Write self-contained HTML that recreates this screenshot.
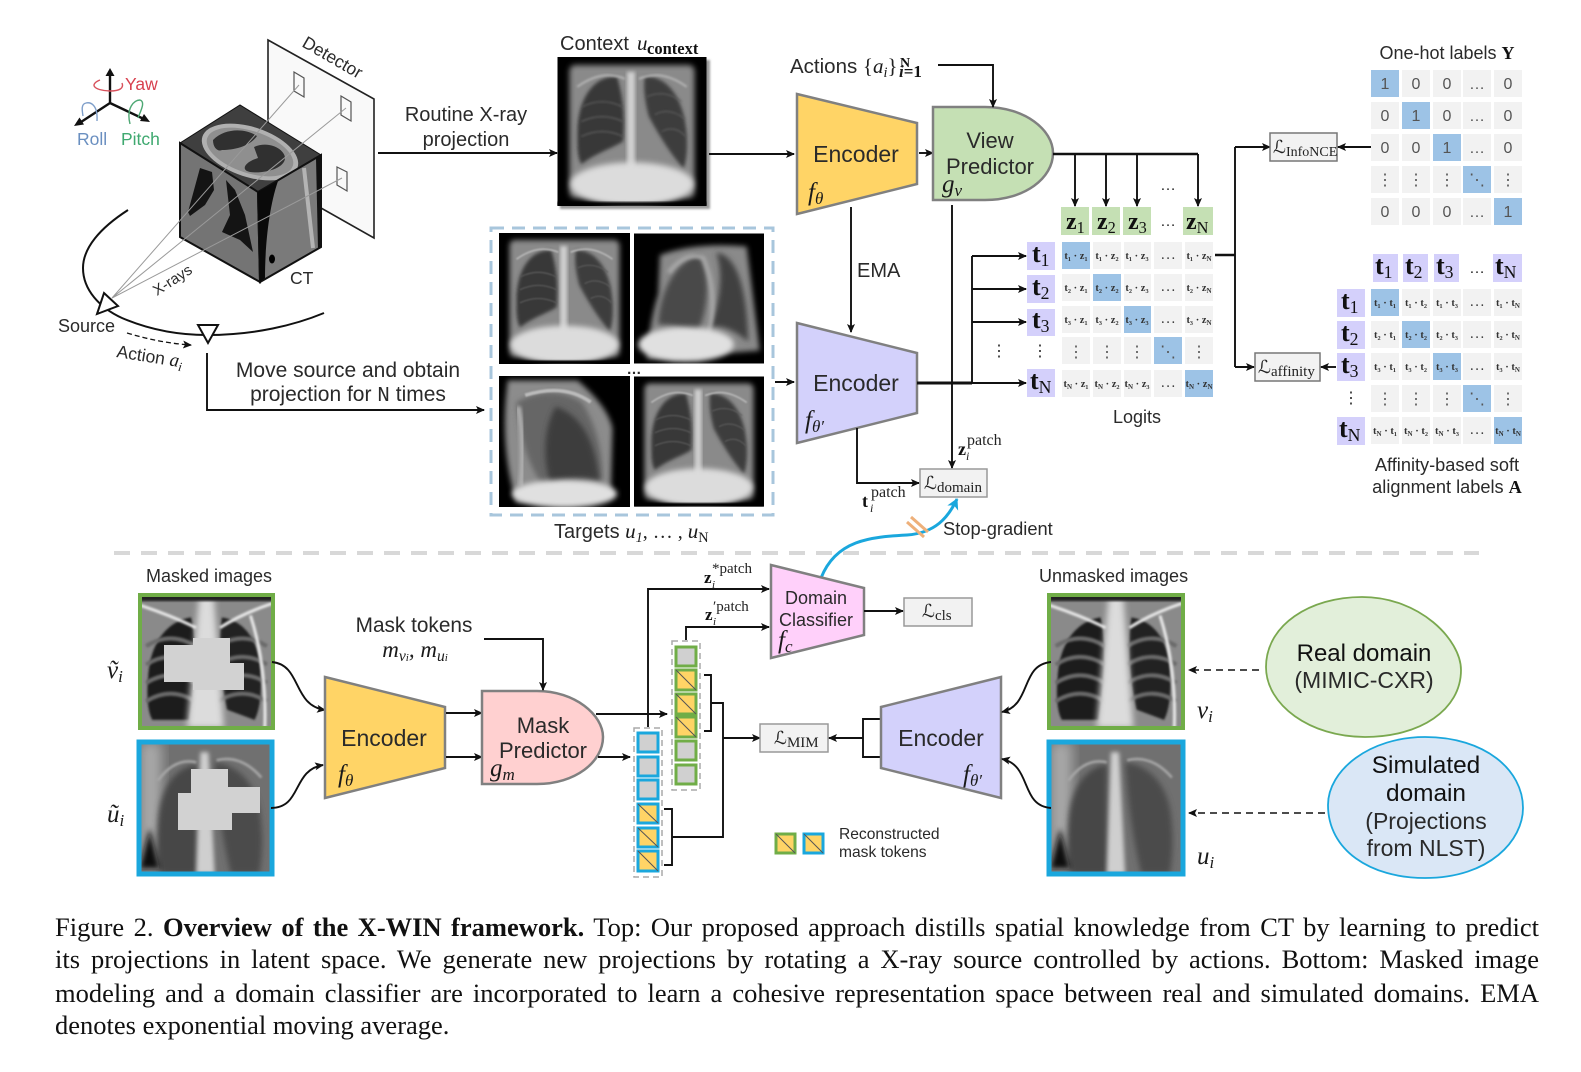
<!DOCTYPE html>
<html lang="en"><head><meta charset="utf-8"><title>X-WIN framework</title>
<style>
html,body{margin:0;padding:0;background:#fff;width:1581px;height:1072px;overflow:hidden}
svg{position:absolute;left:0;top:0}
.s{font-family:"Liberation Sans",sans-serif;fill:#2a2a2a}
.m{font-family:"Liberation Serif",serif;font-style:italic;fill:#1a1a1a}
.b{font-family:"Liberation Serif",serif;font-weight:bold;fill:#111}
.r{font-family:"Liberation Serif",serif;fill:#222}
.c{font-family:"Liberation Serif",serif;font-weight:bold;font-size:10.5px;fill:#333;text-anchor:middle}
.d{font-family:"Liberation Sans",sans-serif;font-size:16px;fill:#555;text-anchor:middle}
.n{font-size:7px;baseline-shift:-2px}
.sub{font-size:68%;baseline-shift:-4px}
.ls{font-size:15px;baseline-shift:-3px}
.mid{text-anchor:middle}
.l{fill:none;stroke:#111;stroke-width:1.9}
.ar{marker-end:url(#a)}
.cap{position:absolute;left:55px;width:1484px;height:33px;line-height:33px;font-family:"Liberation Serif",serif;font-size:26.5px;color:#111;white-space:nowrap;text-align:justify;text-align-last:justify}
</style></head><body>
<svg width="1581" height="1072" viewBox="0 0 1581 1072" xmlns="http://www.w3.org/2000/svg">
<defs>
<marker id="a" markerUnits="userSpaceOnUse" markerWidth="10" markerHeight="10" refX="8" refY="4" orient="auto"><path d="M0,0 L9,4 L0,8 L2,4 Z" fill="#111"/></marker>
<marker id="ab" markerUnits="userSpaceOnUse" markerWidth="13" markerHeight="13" refX="10" refY="6" orient="auto"><path d="M0,0 L11,6 L0,12 L3,6 Z" fill="#1aa7dd"/></marker>
<filter id="b1" x="-20%" y="-20%" width="140%" height="140%"><feGaussianBlur stdDeviation="1"/></filter>
<filter id="b2" x="-20%" y="-20%" width="140%" height="140%"><feGaussianBlur stdDeviation="2"/></filter>
<filter id="b3" x="-20%" y="-20%" width="140%" height="140%"><feGaussianBlur stdDeviation="3"/></filter>
<filter id="b6" x="-30%" y="-30%" width="160%" height="160%"><feGaussianBlur stdDeviation="6"/></filter>
<symbol id="xf" viewBox="0 0 150 150">
<rect width="150" height="150" fill="#000"/>
<rect x="12" y="8" width="126" height="134" rx="6" fill="#8a8a8a" filter="url(#b3)"/>
<path d="M60,20 C38,18 20,40 20,78 C20,92 20,100 24,108 C40,96 55,92 66,85 C68,60 66,40 60,20Z" fill="#383838" filter="url(#b2)"/>
<path d="M88,20 C110,18 128,42 130,78 C131,92 130,104 127,112 C115,100 100,75 92,60 C88,45 86,30 88,20Z" fill="#3c3c3c" filter="url(#b2)"/>
<g stroke="#5e5e5e" stroke-width="1.200" fill="none" filter="url(#b1)"><path d="M25,50 Q45,40 65,50M24,65 Q45,55 66,65M24,80 Q45,70 66,80M90,40 Q108,32 125,45M98,58 Q112,50 128,62M105,75 Q118,68 129,80"/></g>
<rect x="70" y="15" width="8" height="105" fill="#cfcfcf" filter="url(#b2)"/>
<path d="M20,30 Q45,12 68,22M130,30 Q105,12 82,22" stroke="#b5b5b5" stroke-width="2" fill="none" filter="url(#b1)"/>
<ellipse cx="75" cy="128" rx="62" ry="22" fill="#dcdcdc" filter="url(#b3)"/>
<rect x="0" y="146" width="150" height="4" fill="#000" filter="url(#b1)"/>
</symbol>
<symbol id="xl1" viewBox="0 0 150 150">
<rect width="150" height="150" fill="#000"/>
<path d="M30,25 Q70,10 130,15 L145,135 L15,145 Q18,100 28,70Z" fill="#8a8a8a" filter="url(#b3)"/>
<path d="M75,25 C50,30 30,65 28,105 C40,105 60,108 72,118 C85,90 90,50 75,25Z" fill="#4a4a4a" filter="url(#b3)"/>
<path d="M95,22 C118,25 130,60 132,125 C120,115 105,105 88,108 C98,80 104,50 95,22Z" fill="#404040" filter="url(#b3)"/>
<path d="M40,45 Q60,20 80,28 Q98,70 85,118" stroke="#a8a8a8" stroke-width="5" fill="none" filter="url(#b2)"/>
<ellipse cx="60" cy="128" rx="55" ry="20" fill="#e0e0e0" filter="url(#b3)"/>
</symbol>
<symbol id="xl2" viewBox="0 0 150 150">
<rect width="150" height="150" fill="#000"/>
<path d="M10,5 L90,5 Q125,35 130,60 L128,135 L20,145 Q0,80 10,5Z" fill="#8c8c8c" filter="url(#b3)"/>
<path d="M20,30 Q60,8 95,30 Q120,70 118,120 L50,125 Q25,90 20,30Z" fill="#666" filter="url(#b3)"/>
<path d="M65,35 C50,60 50,100 60,125 C80,115 100,115 115,120 C110,75 95,45 65,35Z" fill="#3e3e3e" filter="url(#b3)"/>
<path d="M22,35 Q30,80 25,125" stroke="#b0b0b0" stroke-width="6" fill="none" filter="url(#b2)"/>
<path d="M30,22 Q75,8 105,30" stroke="#bbb" stroke-width="4" fill="none" filter="url(#b1)"/>
<ellipse cx="75" cy="135" rx="60" ry="16" fill="#e0e0e0" filter="url(#b3)"/>
</symbol>
<symbol id="xr" viewBox="0 0 130 130">
<rect width="130" height="130" fill="#8a8a8a"/>
<path d="M50,22 C28,25 10,45 8,80 C6,100 8,115 12,122 L48,122 C54,90 56,50 50,22Z" fill="#1e1e1e" filter="url(#b1)"/>
<path d="M80,22 C102,25 118,45 118,80 C119,100 116,115 112,122 L85,112 C78,80 76,50 80,22Z" fill="#232323" filter="url(#b1)"/>
<g stroke="#6a6a6a" stroke-width="4" fill="none" filter="url(#b1)"><path d="M6,50 Q30,35 54,50M6,68 Q30,53 54,68M6,86 Q30,71 54,86M6,104 Q30,89 54,104M76,50 Q100,35 124,50M76,68 Q100,53 124,68M76,86 Q100,71 124,86M76,104 Q100,89 124,104"/></g>
<path d="M58,0 L72,0 L82,130 L46,130Z" fill="#dcdcdc" filter="url(#b3)"/>
<path d="M0,10 Q30,20 55,32M130,8 Q100,18 78,32M108,20 Q124,70 122,130" stroke="#e8e8e8" stroke-width="3" fill="none" filter="url(#b1)"/>
<rect x="0" y="0" width="130" height="6" fill="#222" filter="url(#b1)"/>
</symbol>
<symbol id="xs" viewBox="0 0 130 130">
<rect width="130" height="130" fill="#707070"/>
<rect x="0" y="0" width="22" height="130" fill="#a8a8a8" filter="url(#b6)"/>
<path d="M56,22 C35,25 20,45 18,80 C16,105 18,120 20,130 L56,130Z" fill="#474747" filter="url(#b3)"/>
<path d="M74,20 C95,22 118,40 120,80 C122,100 120,120 118,130 L90,130 C80,90 76,50 74,20Z" fill="#4c4c4c" filter="url(#b3)"/>
<path d="M60,10 L68,10 L74,130 L56,130Z" fill="#cfcfcf" filter="url(#b2)"/>
<path d="M18,38 Q35,15 56,20M120,35 Q100,12 76,18" stroke="#a8a8a8" stroke-width="2.500" fill="none" filter="url(#b1)"/>
<path d="M0,125 L20,125 L10,85Z" fill="#111" filter="url(#b3)"/>
</symbol>
<g id="r1"><rect x="1062" width="28" height="27"/><rect x="1093" width="28" height="27"/><rect x="1124" width="27" height="27"/><rect x="1154" width="28" height="27"/><rect x="1185" width="28" height="27"/></g>
<g id="r2"><rect x="1371" width="28" height="27"/><rect x="1402" width="28" height="27"/><rect x="1433" width="28" height="27"/><rect x="1463" width="28" height="27"/><rect x="1494" width="28" height="27"/></g>
</defs>

<!-- top left: geometry -->
<path d="M268,40 L374,99 L374,238 L268,178Z" fill="#f9f9f9" stroke="#222" stroke-width="1.600"/>
<text class="s" font-size="17.500" transform="translate(301,46) rotate(30)">Detector</text>
<path d="M294,72L304,78V97L294,91ZM341,96L351,102V121L341,115ZM337,167L347,172V191L337,185Z" fill="none" stroke="#555" stroke-width="1.200"/>
<polygon points="180,143 240,105 321,155 258,192" fill="#3f3f3f" stroke="#111"/>
<ellipse cx="250" cy="152" rx="50" ry="25" transform="rotate(18 250 152)" fill="#b0b0b0"/>
<ellipse cx="250" cy="152" rx="45" ry="21" transform="rotate(18 250 152)" fill="#8f8f8f"/>
<path d="M213,140 C225,128 245,128 257,136 C250,146 235,150 222,150 C218,152 213,148 213,140Z" fill="#303030"/>
<path d="M254,147 C270,140 285,150 285,158 C285,168 265,174 250,172 C240,170 245,162 258,158Z" fill="#303030"/>
<polygon points="180,143 258,192 260,282 180,237" fill="#747474" stroke="#111" stroke-width="2"/>
<polygon points="200,168 212,172 214,190 205,205 190,216 188,212" fill="#141414"/>
<polygon points="226,180 235,190 245,215 253,252 240,240 222,232 230,215" fill="#141414"/>
<polygon points="258,192 321,155 321,247 260,282" fill="#7a7a7a" stroke="#111" stroke-width="2"/>
<path d="M258,192 L278,181 C268,210 265,250 265,278 L260,282Z" fill="#0a0a0a"/>
<path d="M316,158L321,155V247L318,249Z" fill="#111"/>
<path d="M304,168 L313,248" stroke="#b4b4b4" stroke-width="4" fill="none"/>
<ellipse cx="272" cy="259" rx="3" ry="4.500" fill="#000"/>
<g stroke="#9a9a9a" stroke-width="1" fill="none">
<path d="M112,298L299,85M112,298L346,108M112,298L342,178"/>
</g>
<path d="M128,210 C100,228 83,248 83,268 C83,290 100,308 122,318 C150,330 180,335 207,335 C255,335 295,325 324,313" fill="none" stroke="#111" stroke-width="2"/>
<polygon points="104,293 118,306 97,314" fill="#fff" stroke="#111" stroke-width="2"/>
<polygon points="198,325 218,325 208,343" fill="#fff" stroke="#111" stroke-width="2"/>
<text class="s" x="58" y="332" font-size="18">Source</text>
<path d="M127,333 Q160,343 191,345" fill="none" stroke="#111" stroke-width="1.300" stroke-dasharray="5 3" marker-end="url(#a)"/>
<text class="s" font-size="17.500" transform="translate(116,357) rotate(9)">Action <tspan class="m" font-size="19">a<tspan class="sub">i</tspan></tspan></text>
<text class="s" font-size="15" transform="translate(157,296) rotate(-33)">X-rays</text>
<text class="s" x="290" y="284" font-size="17.500">CT</text>
<!-- axes -->
<g stroke="#111" stroke-width="2.400" fill="none">
<path d="M110,103V72M110,103L78,124M110,103L146,120"/>
</g>
<path d="M110,68l-4.500,8h9zM74,126l10,-1.500l-4.500,-7zM150,122l-10,-1l4,-7z" fill="#111"/>
<path d="M100,80 C90,84 92,90 110,91 C120,91 124,88 122,83" fill="none" stroke="#d8515c" stroke-width="1.400"/>
<path d="M97,121 C98,104 90,102 86,103 C81,104 82,110 83,116" fill="none" stroke="#7f9fca" stroke-width="1.400"/>
<path d="M130,124 C126,108 134,100 140,100 C146,102 140,112 138,118" fill="none" stroke="#4ea874" stroke-width="1.400"/>
<text class="s" x="125" y="90" font-size="17.500" style="fill:#d8414f">Yaw</text>
<text class="s" x="77" y="145" font-size="17.500" style="fill:#6a8fc0">Roll</text>
<text class="s" x="121" y="145" font-size="17.500" style="fill:#3fa970">Pitch</text>

<!-- routine arrow -->
<text class="s mid" x="466" y="121" font-size="20">Routine X-ray</text>
<text class="s mid" x="466" y="146" font-size="20">projection</text>
<path class="l ar" d="M378,153H557"/>
<text class="s mid" x="348" y="377" font-size="21">Move source and obtain</text>
<text class="s mid" x="348" y="401" font-size="21">projection for <tspan style="font-family:'Liberation Mono',monospace">N</tspan> times</text>
<path class="l ar" d="M207,353V410H484"/>

<!-- context & targets -->
<rect x="560" y="60" width="150" height="149" fill="#999" filter="url(#b1)"/>
<use href="#xf" x="557" y="57" width="150" height="149"/>
<text class="s" x="560" y="50" font-size="20">Context</text>
<text class="m" x="637" y="50" font-size="21">u</text>
<text class="b" x="647" y="54" font-size="16.500">context</text>
<rect x="491" y="228" width="282" height="287" fill="none" stroke="#a8c6dc" stroke-width="3" stroke-dasharray="13 8"/>
<use href="#xf" x="499" y="233" width="131" height="131"/>
<use href="#xl1" x="634" y="233" width="130" height="131"/>
<use href="#xl2" x="499" y="376" width="131" height="131"/>
<use href="#xf" x="634" y="376" width="130" height="131"/>
<text class="s mid" x="634" y="374" font-size="15" font-weight="bold">…</text>
<text class="s" x="554" y="538" font-size="20">Targets <tspan class="m" font-size="21">u<tspan class="sub">1</tspan></tspan><tspan class="r" font-size="20">, … , </tspan><tspan class="m" font-size="21">u<tspan class="sub" style="font-style:normal">N</tspan></tspan></text>
<path class="l ar" d="M709,154H794"/>
<path class="l ar" d="M775,382H794"/>

<!-- encoders top -->
<polygon points="797,94 917,123 917,184 797,214" fill="#ffd466" stroke="#808080" stroke-width="2.500"/>
<text class="s mid" x="856" y="162" font-size="23">Encoder</text>
<text class="m" x="808" y="200" font-size="25">f<tspan class="sub" font-size="16">θ</tspan></text>
<path class="l ar" d="M919,153H933"/>
<path d="M933,107 H985 C1025,107 1053,130 1053,153 C1053,178 1025,200 985,200 H933Z" fill="#c5e0b4" stroke="#808080" stroke-width="2.500"/>
<text class="s mid" x="990" y="148" font-size="22">View</text>
<text class="s mid" x="990" y="174" font-size="22">Predictor</text>
<text class="m" x="942" y="192" font-size="25">g<tspan class="sub" font-size="16">v</tspan></text>
<text class="s" x="790" y="73" font-size="20.500">Actions <tspan class="r" font-size="21">{</tspan><tspan class="m" font-size="21">a<tspan class="sub">i</tspan></tspan><tspan class="r" font-size="21">}</tspan></text>
<text class="b" x="900" y="67" font-size="14">N</text>
<text class="b" x="899" y="77" font-size="17"><tspan class="m">i</tspan>=1</text>
<path class="l ar" d="M938,65H993V107"/>
<path class="l ar" d="M851,207V332"/>
<text class="s" x="857" y="277" font-size="20">EMA</text>
<polygon points="797,323 917,353 917,413 797,443" fill="#d3d1fb" stroke="#808080" stroke-width="2.500"/>
<text class="s mid" x="856" y="391" font-size="23">Encoder</text>
<text class="m" x="805" y="428" font-size="25">f<tspan class="sub" font-size="16">θ′</tspan></text>
<path d="M917,383H972" stroke="#111" stroke-width="3" fill="none"/>
<path class="l ar" d="M952,205V468"/>
<path class="l" d="M972,383V256"/>
<path class="l ar" d="M972,256H1026"/><path class="l ar" d="M972,289H1026"/><path class="l ar" d="M972,322H1026"/><path class="l ar" d="M972,383H1026"/>
<path class="l ar" d="M857,428V483H919"/>
<rect x="920" y="469" width="67" height="28" fill="#f2f2f2" stroke="#999" stroke-width="1.500"/>
<text class="r" x="924" y="489" font-size="18">ℒ<tspan class="ls">domain</tspan></text>
<text class="b" x="958" y="455" font-size="18">z</text><text class="m" x="966" y="460" font-size="12">i</text><text class="r" x="967" y="445" font-size="16">patch</text>
<text class="b" x="862" y="507" font-size="18">t</text><text class="m" x="870" y="512" font-size="12">i</text><text class="r" x="871" y="497" font-size="16">patch</text>
<path d="M821,578 C836,540 870,537 907,535 C935,533 948,518 957,499" fill="none" stroke="#1aa7dd" stroke-width="3" marker-end="url(#ab)"/>
<path d="M911,517L928,532M907,522L924,537" stroke="#eeb07a" stroke-width="3"/>
<text class="s" x="943" y="535" font-size="18.300">Stop-gradient</text>
<path d="M114,553H1479" stroke="#d8d8d8" stroke-width="4" stroke-dasharray="16 11" fill="none"/>

<!-- logits -->
<path d="M1053,154H1198" stroke="#111" stroke-width="2.500" fill="none"/>
<path class="l ar" d="M1075,154V206"/><path class="l ar" d="M1106,154V206"/><path class="l ar" d="M1137,154V206"/><path class="l ar" d="M1198,154V206"/>
<text class="s mid" x="1168" y="190" font-size="16">…</text>
<g fill="#c5e0b4"><rect x="1061" y="207" width="28" height="28"/><rect x="1092" y="207" width="28" height="28"/><rect x="1123" y="207" width="28" height="28"/><rect x="1183" y="207" width="30" height="28"/></g>
<text class="b" x="1066" y="229" font-size="24">z<tspan class="sub" font-size="17" style="font-weight:normal">1</tspan></text><text class="b" x="1097" y="229" font-size="24">z<tspan class="sub" font-size="17" style="font-weight:normal">2</tspan></text><text class="b" x="1128" y="229" font-size="24">z<tspan class="sub" font-size="17" style="font-weight:normal">3</tspan></text><text class="b" x="1186" y="229" font-size="24">z<tspan class="sub" font-size="17" style="font-weight:normal">N</tspan></text>
<text class="s mid" x="1168" y="226" font-size="16">…</text>
<g fill="#d4d0fb"><rect x="1027" y="242" width="28" height="28"/><rect x="1027" y="275" width="28" height="28"/><rect x="1027" y="309" width="28" height="27"/><rect x="1027" y="369" width="28" height="28"/></g>
<text class="b" x="1032" y="262" font-size="26">t<tspan class="sub" font-size="17" style="font-weight:normal">1</tspan></text>
<text class="b" x="1032" y="295" font-size="26">t<tspan class="sub" font-size="17" style="font-weight:normal">2</tspan></text>
<text class="b" x="1032" y="328" font-size="26">t<tspan class="sub" font-size="17" style="font-weight:normal">3</tspan></text>
<text class="b" x="1030" y="389" font-size="26">t<tspan class="sub" font-size="17" style="font-weight:normal">N</tspan></text>
<text class="s mid" x="999" y="356" font-size="16">⋮</text><text class="s mid" x="1040" y="356" font-size="16">⋮</text>
<g fill="#f2f2f2"><use href="#r1" y="242"/><use href="#r1" y="274"/><use href="#r1" y="306"/><use href="#r1" y="337"/><use href="#r1" y="370"/></g>
<g fill="#9dc3e6"><rect x="1062" y="242" width="28" height="27"/><rect x="1093" y="274" width="28" height="27"/><rect x="1124" y="306" width="27" height="27"/><rect x="1154" y="337" width="28" height="27"/><rect x="1185" y="370" width="28" height="27"/></g>
<text class="c" x="1076" y="259">t₁ · z₁</text><text class="c" x="1107" y="259">t₁ · z₂</text><text class="c" x="1137" y="259">t₁ · z₃</text><text class="c" x="1168" y="259">. . .</text><text class="c" x="1199" y="259">t₁ · z<tspan class="n">N</tspan></text>
<text class="c" x="1076" y="291">t₂ · z₁</text><text class="c" x="1107" y="291">t₂ · z₂</text><text class="c" x="1137" y="291">t₂ · z₃</text><text class="c" x="1168" y="291">. . .</text><text class="c" x="1199" y="291">t₂ · z<tspan class="n">N</tspan></text>
<text class="c" x="1076" y="323">t₃ · z₁</text><text class="c" x="1107" y="323">t₃ · z₂</text><text class="c" x="1137" y="323">t₃ · z₃</text><text class="c" x="1168" y="323">. . .</text><text class="c" x="1199" y="323">t₃ · z<tspan class="n">N</tspan></text>
<text class="d" x="1076" y="357">⋮</text><text class="d" x="1107" y="357">⋮</text><text class="d" x="1137" y="357">⋮</text><text class="d" x="1168" y="357">⋱</text><text class="d" x="1199" y="357">⋮</text>
<text class="c" x="1076" y="387">t<tspan class="n">N</tspan> · z₁</text><text class="c" x="1107" y="387">t<tspan class="n">N</tspan> · z₂</text><text class="c" x="1137" y="387">t<tspan class="n">N</tspan> · z₃</text><text class="c" x="1168" y="387">. . .</text><text class="c" x="1199" y="387">t<tspan class="n">N</tspan> · z<tspan class="n">N</tspan></text>
<text class="s mid" x="1137" y="423" font-size="18">Logits</text>

<!-- losses -->
<path d="M1215,255H1235" stroke="#111" stroke-width="2.500"/>
<path class="l" d="M1235,147V367"/>
<path class="l ar" d="M1235,147H1270"/>
<path class="l ar" d="M1235,367H1254"/>
<rect x="1270" y="133" width="67" height="28" fill="#f2f2f2" stroke="#777" stroke-width="1.500"/>
<text class="r" x="1273" y="153" font-size="18">ℒ<tspan class="ls" style="font-size:14px">InfoNCE</tspan></text>
<rect x="1255" y="353" width="65" height="28" fill="#f2f2f2" stroke="#777" stroke-width="1.500"/>
<text class="r" x="1258" y="373" font-size="18">ℒ<tspan class="ls">affinity</tspan></text>
<path class="l ar" d="M1371,147H1338"/>
<path class="l ar" d="M1336,367H1321"/>

<!-- One hot -->
<text class="s mid" x="1447" y="59" font-size="18">One-hot labels <tspan class="b">Y</tspan></text>
<g fill="#f2f2f2"><use href="#r2" y="70"/><use href="#r2" y="102"/><use href="#r2" y="134"/><use href="#r2" y="166"/><use href="#r2" y="198"/></g>
<g fill="#9dc3e6"><rect x="1371" y="70" width="28" height="27"/><rect x="1402" y="102" width="28" height="27"/><rect x="1433" y="134" width="28" height="27"/><rect x="1463" y="166" width="28" height="27"/><rect x="1494" y="198" width="28" height="27"/></g>
<text class="d" x="1385" y="89">1</text><text class="d" x="1416" y="89">0</text><text class="d" x="1447" y="89">0</text><text class="d" x="1477" y="89">…</text><text class="d" x="1508" y="89">0</text>
<text class="d" x="1385" y="121">0</text><text class="d" x="1416" y="121">1</text><text class="d" x="1447" y="121">0</text><text class="d" x="1477" y="121">…</text><text class="d" x="1508" y="121">0</text>
<text class="d" x="1385" y="153">0</text><text class="d" x="1416" y="153">0</text><text class="d" x="1447" y="153">1</text><text class="d" x="1477" y="153">…</text><text class="d" x="1508" y="153">0</text>
<text class="d" x="1385" y="185">⋮</text><text class="d" x="1416" y="185">⋮</text><text class="d" x="1447" y="185">⋮</text><text class="d" x="1477" y="185">⋱</text><text class="d" x="1508" y="185">⋮</text>
<text class="d" x="1385" y="217">0</text><text class="d" x="1416" y="217">0</text><text class="d" x="1447" y="217">0</text><text class="d" x="1477" y="217">…</text><text class="d" x="1508" y="217">1</text>

<!-- Affinity -->
<g fill="#d4d0fb"><rect x="1373" y="254" width="25" height="28"/><rect x="1403" y="254" width="25" height="28"/><rect x="1434" y="254" width="25" height="28"/><rect x="1493" y="254" width="29" height="28"/>
<rect x="1337" y="289" width="28" height="28"/><rect x="1337" y="321" width="28" height="28"/><rect x="1337" y="353" width="28" height="28"/><rect x="1337" y="417" width="28" height="28"/></g>
<text class="b" x="1375" y="274" font-size="26">t<tspan class="sub" font-size="17" style="font-weight:normal">1</tspan></text>
<text class="b" x="1405" y="274" font-size="26">t<tspan class="sub" font-size="17" style="font-weight:normal">2</tspan></text>
<text class="b" x="1436" y="274" font-size="26">t<tspan class="sub" font-size="17" style="font-weight:normal">3</tspan></text>
<text class="b" x="1495" y="274" font-size="26">t<tspan class="sub" font-size="17" style="font-weight:normal">N</tspan></text>
<text class="s mid" x="1477" y="273" font-size="16">…</text>
<text class="b" x="1341" y="309" font-size="26">t<tspan class="sub" font-size="17" style="font-weight:normal">1</tspan></text>
<text class="b" x="1341" y="341" font-size="26">t<tspan class="sub" font-size="17" style="font-weight:normal">2</tspan></text>
<text class="b" x="1341" y="373" font-size="26">t<tspan class="sub" font-size="17" style="font-weight:normal">3</tspan></text>
<text class="b" x="1339" y="437" font-size="26">t<tspan class="sub" font-size="17" style="font-weight:normal">N</tspan></text>
<text class="s mid" x="1351" y="403" font-size="16">⋮</text>
<g fill="#f2f2f2"><use href="#r2" y="289"/><use href="#r2" y="321"/><use href="#r2" y="353"/><use href="#r2" y="385"/><use href="#r2" y="417"/></g>
<g fill="#9dc3e6"><rect x="1371" y="289" width="28" height="27"/><rect x="1402" y="321" width="28" height="27"/><rect x="1433" y="353" width="28" height="27"/><rect x="1463" y="385" width="28" height="27"/><rect x="1494" y="417" width="28" height="27"/></g>
<text class="c" x="1385" y="306">t₁ · t₁</text><text class="c" x="1416" y="306">t₁ · t₂</text><text class="c" x="1447" y="306">t₁ · t₃</text><text class="c" x="1477" y="306">. . .</text><text class="c" x="1508" y="306">t₁ · t<tspan class="n">N</tspan></text>
<text class="c" x="1385" y="338">t₂ · t₁</text><text class="c" x="1416" y="338">t₂ · t₂</text><text class="c" x="1447" y="338">t₂ · t₃</text><text class="c" x="1477" y="338">. . .</text><text class="c" x="1508" y="338">t₂ · t<tspan class="n">N</tspan></text>
<text class="c" x="1385" y="370">t₃ · t₁</text><text class="c" x="1416" y="370">t₃ · t₂</text><text class="c" x="1447" y="370">t₃ · t₃</text><text class="c" x="1477" y="370">. . .</text><text class="c" x="1508" y="370">t₃ · t<tspan class="n">N</tspan></text>
<text class="d" x="1385" y="404">⋮</text><text class="d" x="1416" y="404">⋮</text><text class="d" x="1447" y="404">⋮</text><text class="d" x="1477" y="404">⋱</text><text class="d" x="1508" y="404">⋮</text>
<text class="c" x="1385" y="434">t<tspan class="n">N</tspan> · t₁</text><text class="c" x="1416" y="434">t<tspan class="n">N</tspan> · t₂</text><text class="c" x="1447" y="434">t<tspan class="n">N</tspan> · t₃</text><text class="c" x="1477" y="434">. . .</text><text class="c" x="1508" y="434">t<tspan class="n">N</tspan> · t<tspan class="n">N</tspan></text>
<text class="s mid" x="1447" y="471" font-size="18.200">Affinity-based soft</text>
<text class="s mid" x="1447" y="493" font-size="18.200">alignment labels <tspan class="b">A</tspan></text>

<!-- bottom left -->
<text class="s mid" x="209" y="582" font-size="18">Masked images</text>
<use href="#xr" x="140" y="595" width="133" height="133"/>
<rect x="140" y="595" width="133" height="133" fill="none" stroke="#70ad47" stroke-width="4"/>
<use href="#xs" x="139" y="742" width="133" height="132"/>
<rect x="139" y="742" width="133" height="132" fill="none" stroke="#1aa7dd" stroke-width="5"/>
<polygon points="164,645 193,645 193,638 230,638 230,663 244,663 244,690 193,690 193,682 164,682" fill="#d2d2d2"/>
<polygon points="191,769 228,769 228,787 260,787 260,813 232,813 232,830 178,830 178,793 191,793" fill="#d2d2d2"/>
<text class="m" x="107" y="678" font-size="25">ṽ<tspan class="sub" font-size="16">i</tspan></text>
<text class="m" x="107" y="822" font-size="25">ũ<tspan class="sub" font-size="16">i</tspan></text>
<path class="l ar" d="M272,662 C302,665 292,705 325,710"/>
<path class="l ar" d="M271,808 C302,808 292,770 323,765"/>
<polygon points="325,677 445,707 445,768 325,798" fill="#ffd466" stroke="#808080" stroke-width="2.500"/>
<text class="s mid" x="384" y="746" font-size="23">Encoder</text>
<text class="m" x="338" y="782" font-size="25">f<tspan class="sub" font-size="16">θ</tspan></text>
<path class="l ar" d="M446,713H482"/><path class="l ar" d="M446,757H482"/>
<path d="M482,691 H537 C575,691 603,715 603,737 C603,762 575,784 537,784 H482Z" fill="#ffd0d0" stroke="#808080" stroke-width="2.500"/>
<text class="s mid" x="543" y="733" font-size="22">Mask</text>
<text class="s mid" x="543" y="758" font-size="22">Predictor</text>
<text class="m" x="490" y="776" font-size="25">g<tspan class="sub" font-size="16">m</tspan></text>
<text class="s mid" x="414" y="632" font-size="20.800">Mask tokens</text>
<text class="m mid" x="415" y="657" font-size="23">m<tspan class="sub">v<tspan font-size="11">i</tspan></tspan><tspan class="r">, </tspan>m<tspan class="sub">u<tspan font-size="11">i</tspan></tspan></text>
<path class="l ar" d="M484,639H543V690"/>
<path class="l ar" d="M596,714H667"/>
<path class="l ar" d="M598,757H630"/>
<path class="l ar" d="M648,727V589H769"/>
<path class="l ar" d="M686,640V627H769"/>
<text class="b" x="704" y="583" font-size="17">z</text><text class="m" x="712" y="588" font-size="11">i</text><text class="r" x="712" y="573" font-size="15">*patch</text>
<text class="b" x="705" y="620" font-size="17">z</text><text class="m" x="713" y="625" font-size="11">i</text><text class="r" x="713" y="611" font-size="15">′patch</text>

<!-- token columns -->
<rect x="672" y="641" width="28" height="149" fill="none" stroke="#aaa" stroke-width="1.500" stroke-dasharray="6 4"/>
<rect x="634" y="728" width="28" height="149" fill="none" stroke="#aaa" stroke-width="1.500" stroke-dasharray="6 4"/>
<g stroke-width="3" stroke="#70ad47">
<rect x="676" y="647" width="20" height="19" fill="#d0d0d0"/>
<rect x="676" y="670" width="20" height="20" fill="#ffd466"/><rect x="676" y="694" width="20" height="20" fill="#ffd466"/><rect x="676" y="717" width="20" height="20" fill="#ffd466"/>
<rect x="676" y="741" width="20" height="19" fill="#d0d0d0"/><rect x="676" y="765" width="20" height="19" fill="#d0d0d0"/>
</g>
<g stroke-width="3" stroke="#1aa7dd">
<rect x="638" y="733" width="20" height="19" fill="#d0d0d0"/><rect x="638" y="757" width="20" height="19" fill="#d0d0d0"/><rect x="638" y="780" width="20" height="19" fill="#d0d0d0"/>
<rect x="638" y="804" width="20" height="19" fill="#ffd466"/><rect x="638" y="828" width="20" height="19" fill="#ffd466"/><rect x="638" y="851" width="20" height="20" fill="#ffd466"/>
</g>
<path d="M676,670L696,690M676,694L696,714M676,717L696,737M638,804L658,823M638,828L658,847M638,851L658,871" stroke="#555" stroke-width="1"/>
<path class="l" d="M704,675H711V731H704M711,703H723V837H672M664,809H672V865H664"/>
<path class="l ar" d="M723,738H760"/>
<rect x="760" y="724" width="68" height="28" fill="#f2f2f2" stroke="#999" stroke-width="1.500"/>
<text class="r" x="774" y="744" font-size="18">ℒ<tspan class="ls">MIM</tspan></text>
<path class="l ar" d="M863,738H829"/>
<path class="l" d="M881,719H863V757H881"/>
<rect x="776" y="834" width="19" height="19" fill="#ffd466" stroke="#70ad47" stroke-width="3"/><path d="M776,834L795,853" stroke="#555"/>
<rect x="804" y="834" width="19" height="19" fill="#ffd466" stroke="#1aa7dd" stroke-width="3"/><path d="M804,834L823,853" stroke="#555"/>
<text class="s" x="839" y="839" font-size="15.600">Reconstructed</text>
<text class="s" x="839" y="857" font-size="15.600">mask tokens</text>

<!-- classifier -->
<polygon points="771,565 864,588 864,635 771,658" fill="#ffd0fa" stroke="#808080" stroke-width="2.500"/>
<text class="s mid" x="816" y="604" font-size="18">Domain</text>
<text class="s mid" x="816" y="626" font-size="18">Classifier</text>
<text class="m" x="778" y="648" font-size="25">f<tspan class="sub" font-size="16">c</tspan></text>
<path class="l ar" d="M864,611H903"/>
<rect x="904" y="598" width="68" height="28" fill="#f2f2f2" stroke="#999" stroke-width="1.500"/>
<text class="r" x="922" y="617" font-size="18">ℒ<tspan class="ls">cls</tspan></text>

<!-- right encoder & images -->
<polygon points="881,707 1001,677 1001,798 881,768" fill="#d3d1fb" stroke="#808080" stroke-width="2.500"/>
<text class="s mid" x="941" y="746" font-size="23">Encoder</text>
<text class="m" x="963" y="782" font-size="25">f<tspan class="sub" font-size="16">θ′</tspan></text>
<text class="s" x="1039" y="582" font-size="18">Unmasked images</text>
<use href="#xr" x="1049" y="595" width="134" height="133"/>
<rect x="1049" y="595" width="134" height="133" fill="none" stroke="#70ad47" stroke-width="4"/>
<use href="#xs" x="1049" y="742" width="134" height="132"/>
<rect x="1049" y="742" width="134" height="132" fill="none" stroke="#1aa7dd" stroke-width="5"/>
<path class="l ar" d="M1051,662 C1020,665 1032,705 1002,712"/>
<path class="l ar" d="M1051,808 C1020,806 1032,765 1002,759"/>
<text class="m" x="1197" y="718" font-size="25">v<tspan class="sub" font-size="16">i</tspan></text>
<text class="m" x="1197" y="864" font-size="25">u<tspan class="sub" font-size="16">i</tspan></text>
<path d="M1259,670H1189" fill="none" stroke="#111" stroke-width="1.600" stroke-dasharray="7 5" marker-end="url(#a)"/>
<path d="M1325,813H1189" fill="none" stroke="#111" stroke-width="1.600" stroke-dasharray="7 5" marker-end="url(#a)"/>
<path d="M1266,667 C1266,625 1310,597 1362,597 C1420,597 1461,640 1461,670 C1461,710 1420,737 1365,737 C1310,737 1266,705 1266,667Z" fill="#e2efda" stroke="#7aa84f" stroke-width="1.800"/>
<text class="s mid" x="1364" y="661" font-size="24" style="fill:#111">Real domain</text>
<text class="s mid" x="1364" y="688" font-size="23">(MIMIC-CXR)</text>
<path d="M1328,805 C1328,770 1370,737 1425,737 C1485,737 1523,770 1523,808 C1523,840 1490,878 1425,878 C1370,878 1328,850 1328,805Z" fill="#dae7f6" stroke="#1aa7dd" stroke-width="1.800"/>
<text class="s mid" x="1426" y="773" font-size="24.400" style="fill:#111">Simulated</text>
<text class="s mid" x="1426" y="801" font-size="24.400" style="fill:#111">domain</text>
<text class="s mid" x="1426" y="829" font-size="23">(Projections</text>
<text class="s mid" x="1426" y="856" font-size="23">from NLST)</text>
</svg>
<div class="cap" style="top:911px">Figure 2. <b>Overview of the X-WIN framework.</b> Top: Our proposed approach distills spatial knowledge from CT by learning to predict</div>
<div class="cap" style="top:943px">its projections in latent space. We generate new projections by rotating a X-ray source controlled by actions. Bottom: Masked image</div>
<div class="cap" style="top:977px">modeling and a domain classifier are incorporated to learn a cohesive representation space between real and simulated domains. EMA</div>
<div class="cap" style="top:1009px;text-align:left;text-align-last:left">denotes exponential moving average.</div>
</body></html>
